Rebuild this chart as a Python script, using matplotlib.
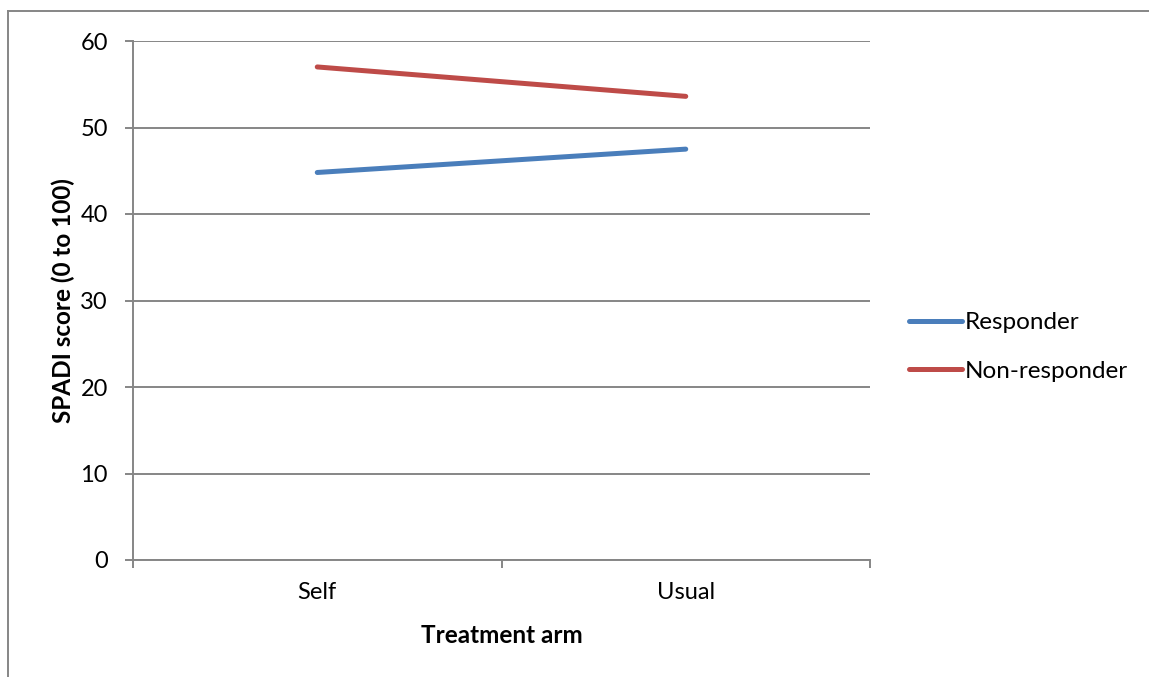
import matplotlib
matplotlib.use("Agg")
import matplotlib.pyplot as plt
from matplotlib.lines import Line2D
from matplotlib.ticker import FixedLocator, NullFormatter

plt.rcParams['font.family'] = ['Lato', 'DejaVu Sans']

# Data
arms = ["Self", "Usual"]
responder = [44.8, 47.5]
non_responder = [57.0, 53.6]

grid_gray = "#868686"
blue = "#4A7EBB"
red = "#BE4B48"

fig = plt.figure(figsize=(11.49, 6.77), dpi=100)
ax = fig.add_axes([133/1149, 1 - 560/677, (870-133)/1149, (560-41)/677])

x = list(range(len(arms)))
ax.plot(x, responder, color=blue, lw=3.6, solid_capstyle='round', label="Responder")
ax.plot(x, non_responder, color=red, lw=3.6, solid_capstyle='round', label="Non-responder")

ax.set_xlim(-0.5, len(arms) - 0.5)
ax.set_ylim(0, 60)
ax.set_yticks(range(0, 61, 10))
ax.set_xticks(x)
ax.set_xticklabels(arms)
ax.xaxis.set_minor_locator(FixedLocator([-0.5, 0.5, 1.5]))
ax.xaxis.set_minor_formatter(NullFormatter())

ax.yaxis.grid(True, color=grid_gray, lw=1.4)
ax.set_axisbelow(True)
for side in ("top", "right"):
    ax.spines[side].set_visible(False)
for side in ("left", "bottom"):
    ax.spines[side].set_color(grid_gray)
    ax.spines[side].set_linewidth(1.4)

ax.tick_params(axis='y', which='major', length=6, width=1.4, color=grid_gray,
               labelsize=17, pad=12)
ax.tick_params(axis='x', which='major', length=0, labelsize=17, pad=16)
ax.tick_params(axis='x', which='minor', length=6, width=1.4, color=grid_gray)

ax.set_ylabel("SPADI score (0 to 100)", fontsize=17.5, fontweight='bold', labelpad=4)
ax.set_xlabel("Treatment arm", fontsize=17.5, fontweight='bold', labelpad=15)

leg = fig.legend(loc='center left', bbox_to_anchor=(887/1149, 1 - 347/677),
                 frameon=False, fontsize=17.5, handlelength=2.2, handletextpad=0.1,
                 labelspacing=1.15)

# Chart area border (left and top edges)
fig.add_artist(Line2D([8/1149, 8/1149], [0, 1 - 11/677], transform=fig.transFigure,
                      color=grid_gray, lw=1.4))
fig.add_artist(Line2D([8/1149, 1], [1 - 11/677, 1 - 11/677], transform=fig.transFigure,
                      color=grid_gray, lw=1.4))

fig.savefig("out.png", dpi=100)
